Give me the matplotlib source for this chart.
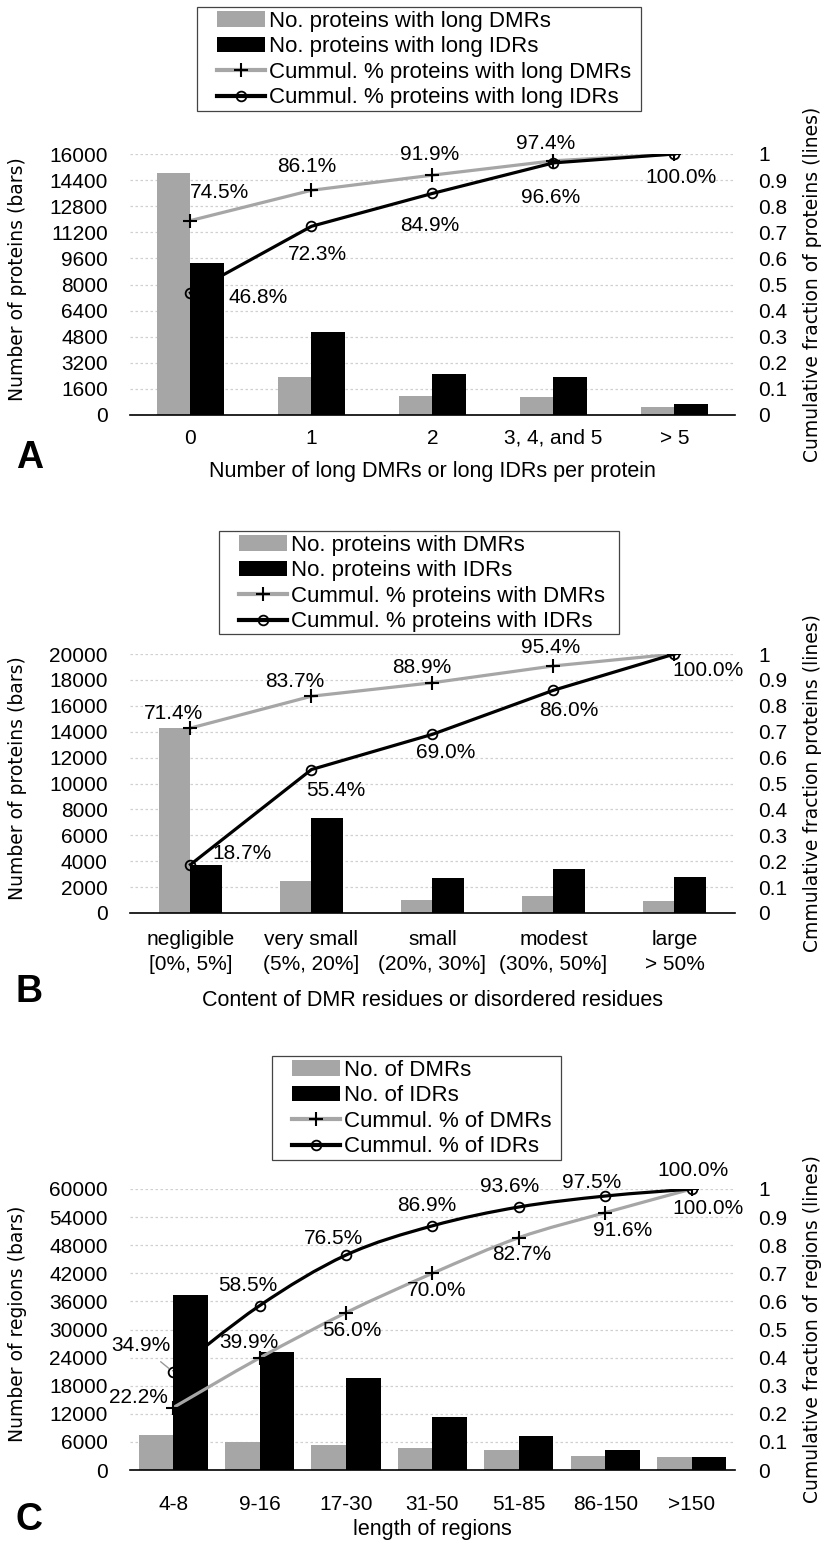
import numpy as np
import matplotlib
matplotlib.use("Agg")
import matplotlib.pyplot as plt
from matplotlib.path import Path
from matplotlib.patches import PathPatch, Rectangle

# ---- data -------------------------------------------------------------
# panel A
a_cats = ["0", "1", "2", "3, 4, and 5", "> 5"]
a_dmr = [14830, 2310, 1150, 1090, 520]
a_idr = [9310, 5080, 2510, 2330, 680]
a_cum_dmr = [0.745, 0.861, 0.919, 0.974, 1.000]
a_cum_idr = [0.468, 0.723, 0.849, 0.966, 1.000]

# panel B
b_cats = ["negligible\n[0%, 5%]", "very small\n(5%, 20%]", "small\n(20%, 30%]",
          "modest\n(30%, 50%]", "large\n> 50%"]
b_dmr = [14250, 2460, 1040, 1300, 920]
b_idr = [3740, 7340, 2720, 3400, 2800]
b_cum_dmr = [0.714, 0.837, 0.889, 0.954, 1.000]
b_cum_idr = [0.187, 0.554, 0.690, 0.860, 1.000]

# panel C
c_cats = ["4-8", "9-16", "17-30", "31-50", "51-85", "86-150", ">150"]
c_dmr = [7400, 5900, 5350, 4650, 4200, 2950, 2800]
c_idr = [37300, 25100, 19600, 11300, 7250, 4200, 2700]
c_cum_dmr = [0.222, 0.399, 0.560, 0.700, 0.827, 0.916, 1.000]
c_cum_idr = [0.349, 0.585, 0.765, 0.869, 0.936, 0.975, 1.000]

GRAY = "#a6a6a6"
plt.rcParams["font.family"] = ["Liberation Sans", "DejaVu Sans"]
FS = 15

W, H = 829, 1543
fig = plt.figure(figsize=(W / 100, H / 100), dpi=100)


def smooth_path(x, y):
    # Excel-style smoothed line (Catmull-Rom as cubic Bezier)
    p = np.column_stack([x, y]).astype(float)
    pts = np.vstack([p[0], p, p[-1]])
    verts = [p[0]]
    codes = [Path.MOVETO]
    for i in range(1, len(pts) - 2):
        c1 = pts[i] + (pts[i + 1] - pts[i - 1]) / 6
        c2 = pts[i + 1] - (pts[i + 2] - pts[i]) / 6
        verts += [c1, c2, pts[i + 1]]
        codes += [Path.CURVE4] * 3
    return Path(verts, codes)


def panel(rect, cats, dmr, idr, cum_dmr, cum_idr, ymax, ystep, barw,
          ylab, ylab2, xlab, names, off_dmr, off_idr, legbox, letter,
          smooth=False, xlab_y=None, letter_y=None, xpad=10):
    ax = fig.add_axes(rect)
    x = np.arange(len(cats))
    b1 = ax.bar(x - barw / 2, dmr, barw, color=GRAY, label=names[0])
    b2 = ax.bar(x + barw / 2, idr, barw, color="black", label=names[1])
    ax.set_xlim(-0.5, len(cats) - 0.5)
    ax.set_ylim(0, ymax)
    ax.set_yticks(np.arange(0, ymax + 1, ystep))
    ax.set_xticks(x)
    ax.set_xticklabels(cats, fontsize=FS, linespacing=1.4)
    ax.set_axisbelow(True)
    ax.grid(axis="y", color="#d0d0d0", linestyle=(0, (2, 2)), linewidth=0.9)
    for s in ["top", "left", "right"]:
        ax.spines[s].set_visible(False)
    ax.spines["bottom"].set_color("#000000")
    ax.spines["bottom"].set_linewidth(1.2)
    ax.tick_params(axis="both", length=0, labelsize=FS)
    ax.tick_params(axis="x", pad=xpad)
    ax.tick_params(axis="y", pad=16)
    ax.set_ylabel(ylab, family="DejaVu Sans", fontsize=13.5)
    ax.yaxis.set_label_coords(-0.17, 0.52)

    ax2 = ax.twinx()
    ax2.set_ylim(0, 1)
    ax2.set_yticks(np.arange(0, 1.01, 0.1))
    ax2.set_yticklabels(["0"] + ["%.1f" % v for v in np.arange(0.1, 0.95, 0.1)] + ["1"])
    for s in ["top", "left", "right", "bottom"]:
        ax2.spines[s].set_visible(False)
    ax2.tick_params(axis="y", length=0, labelsize=FS, pad=17)
    ax2.set_ylabel(ylab2, family="DejaVu Sans", fontsize=13.5, rotation=90)
    ax2.yaxis.set_label_coords(1.113, 0.5)

    if smooth:
        ax2.add_patch(PathPatch(smooth_path(x, cum_dmr), fill=False,
                                edgecolor=GRAY, lw=2.3))
        ax2.add_patch(PathPatch(smooth_path(x, cum_idr), fill=False,
                                edgecolor="black", lw=2.3))
        ls = "none"
    else:
        ls = "-"
    ax2.plot(x, cum_dmr, color=GRAY, lw=2.3, ls=ls, marker="+",
             ms=10, mec="black", mew=1.5)
    ax2.plot(x, cum_idr, color="black", lw=2.3, ls=ls, marker="o",
             ms=7, mec="black", mfc="none", mew=1.3)
    # legend proxies
    l1, = ax2.plot([], [], color=GRAY, lw=3, marker="+", ms=10, mec="black",
                   mew=1.5, label=names[2])
    l2, = ax2.plot([], [], color="black", lw=3, marker="o", ms=7, mec="black",
                   mfc="none", mew=1.3, label=names[3])

    for vals, offs in ((cum_dmr, off_dmr), (cum_idr, off_idr)):
        for xi, v, o in zip(x, vals, offs):
            if o is None:
                continue
            kw = {}
            if len(o) == 3:
                kw["arrowprops"] = dict(arrowstyle="-", color="#999999", lw=1.0,
                                        shrinkA=4, shrinkB=4)
            ax2.annotate("%.1f%%" % (v * 100), (xi, v), xytext=(o[0], -o[1]),
                         textcoords="offset pixels", ha="center", va="center",
                         fontsize=FS, **kw)

    # legend box in pixel coords (x0, y0_top, x1, y1_bottom)
    x0, y0, x1, y1 = legbox
    fig.patches.append(Rectangle((x0 / W, 1 - y1 / H), (x1 - x0) / W,
                                 (y1 - y0) / H, transform=fig.transFigure,
                                 fill=False, edgecolor="#444444", lw=0.9))
    fig.legend(handles=[b1, b2, l1, l2], loc="upper left",
               bbox_to_anchor=((x0 + 20) / W, 1 - (y0 + 4) / H), fontsize=16,
               frameon=False, borderaxespad=0, borderpad=0, handlelength=2.15,
               handleheight=0.7, handletextpad=0.2, labelspacing=0.2)

    fig.text(rect[0] + rect[2] / 2, 1 - xlab_y / H, xlab, ha="center",
             va="center", fontsize=15.5)
    fig.text(16 / W, 1 - letter_y / H, letter, ha="left", va="center",
             fontsize=27, fontweight="bold")
    return ax, ax2


L, WD = 130 / W, 605 / W

panel([L, 1 - 415 / H, WD, 261 / H], a_cats, a_dmr, a_idr, a_cum_dmr, a_cum_idr,
      16000, 1600, 0.28,
      "Number of proteins (bars)", "Cumulative fraction of proteins (lines)",
      "Number of long DMRs or long IDRs per protein",
      ["No. proteins with long DMRs", "No. proteins with long IDRs",
       "Cummul. % proteins with long DMRs", "Cummul. % proteins with long IDRs"],
      [(29, -28), (-5, -24), (-3, -21), (-8, -17), None],
      [(68, 5), (6, 28), (-3, 32), (-3, 35), (7, 24)],
      (197, 7, 641, 111), "A", xlab_y=472, letter_y=458)

panel([L, 1 - 913 / H, WD, 259 / H], b_cats, b_dmr, b_idr, b_cum_dmr, b_cum_idr,
      20000, 2000, 0.26,
      "Number of proteins (bars)", "Cmmulative fraction proteins (lines)",
      "Content of DMR residues or disordered residues",
      ["No. proteins with DMRs", "No. proteins with IDRs",
       "Cummul. % proteins with DMRs", "Cummul. % proteins with IDRs"],
      [(-17, -15), (-17, -15), (-11, -15), (-3, -18), None],
      [(52, -11), (24, 21), (13, 18), (15, 20), (34, 16)],
      (219, 531, 619, 634), "B", xlab_y=1001, letter_y=992, xpad=12)

panel([L, 1 - 1470 / H, WD, 281 / H], c_cats, c_dmr, c_idr, c_cum_dmr, c_cum_idr,
      60000, 6000, 0.40,
      "Number of regions (bars)", "Cumulative fraction of regions (lines)",
      "length of regions",
      ["No. of DMRs", "No. of IDRs", "Cummul. % of DMRs", "Cummul. % of IDRs"],
      [(-35, -10), (-11, -15), (6, 18), (4, 17), (3, 17), (17, 18), (16, 19)],
      [(-32, -26, 1), (-12, -20), (-13, -17), (-6, -20), (-9, -20), (-14, -14), (1, -19)],
      (272, 1056, 561, 1160), "C", smooth=True, xlab_y=1530, letter_y=1520,
      xpad=18)

fig.savefig("out.png", dpi=100)
